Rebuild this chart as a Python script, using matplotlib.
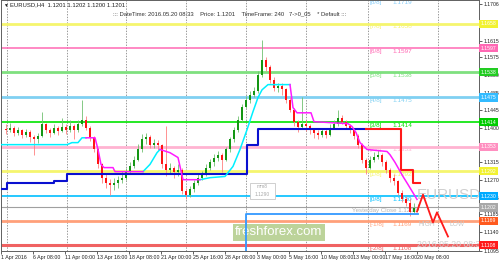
import matplotlib
matplotlib.use("Agg")
import matplotlib.pyplot as plt
from matplotlib.patches import Rectangle
from matplotlib.transforms import blended_transform_factory

plt.rcParams['font.family'] = ['Liberation Sans', 'DejaVu Sans']

# EURUSD H4, one candle drawn every 2 bars
close = [1.1395, 1.1400, 1.1388, 1.1395, 1.1383, 1.1390, 1.1378, 1.1371, 1.1380, 1.1408,
         1.1395, 1.1388, 1.1400, 1.1393, 1.1403, 1.1395, 1.1405, 1.1395, 1.1408, 1.1420,
         1.1400, 1.1375, 1.1346, 1.1309, 1.1276, 1.1264, 1.1257, 1.1262, 1.1269, 1.1276,
         1.1291, 1.1306, 1.1321, 1.1346, 1.1371, 1.1378, 1.1358, 1.1363, 1.1356, 1.1309,
         1.1296, 1.1301, 1.1291, 1.1296, 1.1242, 1.1232, 1.1247, 1.1264, 1.1276, 1.1284,
         1.1301, 1.1314, 1.1326, 1.1333, 1.1321, 1.1346, 1.1371, 1.1395, 1.1420, 1.1452,
         1.1470, 1.1482, 1.1490, 1.1532, 1.1569, 1.1551, 1.1519, 1.1499, 1.1504, 1.1495,
         1.1470, 1.1445, 1.1415, 1.1403, 1.1408, 1.1405, 1.1395, 1.1388, 1.1383, 1.1393,
         1.1383, 1.1400, 1.1408, 1.1425, 1.1415, 1.1405, 1.1395, 1.1380, 1.1358, 1.1321,
         1.1301, 1.1321, 1.1328, 1.1333, 1.1314, 1.1296, 1.1276, 1.1267, 1.1239, 1.1222,
         1.1214, 1.1190, 1.1200, 1.1201]
high = [1.1410, 1.1412, 1.1405, 1.1402, 1.1398, 1.1396, 1.1394, 1.1382, 1.1388, 1.1440,
        1.1412, 1.1400, 1.1410, 1.1405, 1.1425, 1.1410, 1.1418, 1.1410, 1.1420, 1.1468,
        1.1430, 1.1405, 1.1380, 1.1350, 1.1312, 1.1285, 1.1272, 1.1275, 1.1280, 1.1292,
        1.1300, 1.1315, 1.1330, 1.1360, 1.1384, 1.1388, 1.1382, 1.1372, 1.1370, 1.1360,
        1.1405, 1.1312, 1.1305, 1.1310, 1.1300, 1.1250, 1.1255, 1.1270, 1.1285, 1.1292,
        1.1310, 1.1322, 1.1335, 1.1342, 1.1338, 1.1352, 1.1378, 1.1402, 1.1428, 1.1460,
        1.1478, 1.1490, 1.1500, 1.1540, 1.1618, 1.1575, 1.1555, 1.1525, 1.1512, 1.1510,
        1.1498, 1.1475, 1.1448, 1.1420, 1.1477, 1.1418, 1.1410, 1.1400, 1.1395, 1.1400,
        1.1398, 1.1408, 1.1418, 1.1445, 1.1432, 1.1420, 1.1410, 1.1400, 1.1385, 1.1362,
        1.1325, 1.1330, 1.1340, 1.1345, 1.1338, 1.1320, 1.1300, 1.1285, 1.1270, 1.1245,
        1.1230, 1.1225, 1.1212, 1.1210]
low = [1.1385, 1.1390, 1.1380, 1.1382, 1.1375, 1.1378, 1.1365, 1.1333, 1.1362, 1.1376,
       1.1388, 1.1378, 1.1385, 1.1382, 1.1390, 1.1385, 1.1390, 1.1372, 1.1390, 1.1405,
       1.1395, 1.1368, 1.1340, 1.1300, 1.1262, 1.1250, 1.1234, 1.1245, 1.1250, 1.1262,
       1.1270, 1.1285, 1.1300, 1.1318, 1.1340, 1.1360, 1.1350, 1.1350, 1.1345, 1.1300,
       1.1280, 1.1285, 1.1275, 1.1280, 1.1235, 1.1222, 1.1228, 1.1240, 1.1258, 1.1270,
       1.1280, 1.1295, 1.1305, 1.1318, 1.1291, 1.1318, 1.1340, 1.1365, 1.1390, 1.1415,
       1.1448, 1.1462, 1.1475, 1.1485, 1.1525, 1.1540, 1.1510, 1.1490, 1.1488, 1.1480,
       1.1462, 1.1438, 1.1405, 1.1390, 1.1396, 1.1392, 1.1385, 1.1375, 1.1372, 1.1378,
       1.1375, 1.1380, 1.1398, 1.1405, 1.1408, 1.1398, 1.1388, 1.1372, 1.1350, 1.1312,
       1.1284, 1.1298, 1.1315, 1.1322, 1.1305, 1.1288, 1.1265, 1.1258, 1.1232, 1.1215,
       1.1205, 1.1180, 1.1188, 1.1195]
first_open = 1.1398

# stop line (blue while long, red while short), steps
blue_t = [0, 3, 26.5, 33, 123, 128.5, 182.5]
blue_p = [1.1247, 1.1264, 1.1267, 1.1284, 1.1358, 1.1398, 1.1398]
red_t = [182.5, 200, 206, 209.5]
red_p = [1.1398, 1.1294, 1.1262, 1.1262]

# trailing line, cyan / magenta parts
cyan_parts = [
    ([0, 33, 35.5, 38.5, 40.5, 42.5], [1.1358, 1.1358, 1.1363, 1.1363, 1.1375, 1.1375]),
    ([71, 74.5, 78, 79.5], [1.1291, 1.1309, 1.1338, 1.1346]),
    ([99.5, 104.5, 112, 116, 119.5, 123, 126, 128.5, 130.5, 133.5, 144.5],
     [1.1271, 1.1276, 1.1279, 1.1304, 1.1346, 1.1395, 1.1440, 1.1475, 1.1494, 1.1507, 1.1507]),
]
magenta_parts = [
    ([42.5, 47, 48.5, 50, 51.5, 56, 57, 71],
     [1.1375, 1.1375, 1.1346, 1.1309, 1.1301, 1.1301, 1.1291, 1.1291]),
    ([79.5, 84.5, 88.5, 91, 99.5], [1.1346, 1.1338, 1.1326, 1.1271, 1.1271]),
    ([144.5, 146, 148, 155, 156.5, 173.5, 175.5, 177.5, 179.5, 183, 193, 194.5, 197, 201, 203.5, 208],
     [1.1507, 1.1450, 1.1437, 1.1437, 1.1415, 1.1410, 1.1403, 1.1388, 1.1363, 1.1346,
      1.1341, 1.1333, 1.1314, 1.1279, 1.1259, 1.1222]),
]

# projected zigzag
zig_t = [208, 211, 216, 218, 223.5]
zig_p = [1.1192, 1.1234, 1.1165, 1.1190, 1.1130]

# Murrey levels
level_names = ['8/8', '7/8', '6/8', '5/8', '4/8', '3/8', '2/8', '1/8', '0/8', '-1/8', '-2/8']
level_prices = [1.1719, 1.1658, 1.1597, 1.1538, 1.1475, 1.1414, 1.1353, 1.1292, 1.1230, 1.1169, 1.1108]
level_colors = ['#87cefa', '#f5f56e', '#ff69b4', '#7fe07f', '#80d0f2', '#00e400',
                '#ffb3d1', '#f5f56e', '#00bfff', '#ffa07a', '#f06262']
level_widths = [0, 2.0, 1.1, 2.0, 2.0, 1.2, 2.0, 2.0, 1.2, 2.0, 2.2]
box_colors = ['#87cefa', '#f2f230', '#ff69b4', '#22cc22', '#33bbff', '#00cc00',
              '#ff8fc0', '#f2f230', '#00aaff', '#ff5a1e', '#ff1a1a']

last_price = 1.1202
yest_close = 1.1185

ytick_vals = [1.1706, 1.1615, 1.1575, 1.1530, 1.1485, 1.1445, 1.1400, 1.1315,
              1.1270, 1.1225, 1.1185, 1.1140, 1.1095]
xtick_labels = ['1 Apr 2016', '6 Apr 08:00', '11 Apr 00:00', '13 Apr 16:00', '18 Apr 08:00',
                '21 Apr 00:00', '25 Apr 16:00', '28 Apr 08:00', '3 May 00:00', '5 May 16:00',
                '10 May 08:00', '13 May 00:00', '17 May 16:00', '20 May 08:00']
grid_t = [3, 33, 62.5, 92.5, 122.5, 152.5, 183.5, 218.5]

fig = plt.figure(figsize=(5, 2.65), dpi=100)
ax = fig.add_axes([1 / 500, 14 / 265, 478 / 500, 251 / 265])
ax.set_xlim(0, 239)
ax.set_ylim(1.1094, 1.1717)

for g in grid_t:
    ax.axvline(g, color='#707070', lw=0.5, ls=(0, (2, 2)), zorder=0)

for name, p, c, w in zip(level_names, level_prices, level_colors, level_widths):
    if w > 0:
        ax.axhline(p, color=c, lw=w, zorder=1)
    ax.text(184.5, p - 0.0008, '[' + name + ']', color=c, fontsize=4.6, va='center', zorder=2, clip_on=True)
    ax.text(195.5, p - 0.0008, f'{p:.4f}', color=c, fontsize=4.6, va='center', zorder=2, clip_on=True)
ax.axhline(last_price, color='#a0a0a0', lw=0.8, zorder=1)

# watermark box
ax.add_patch(Rectangle((116, 1.1120), 46, 0.0041, fc='#bcd39a', ec='none', zorder=1))
ax.text(139, 1.11405, 'freshforex.com', color='white', fontsize=9.5, ha='center', va='center', zorder=2)
ax.add_patch(Rectangle((124.5, 1.1222), 12.5, 0.0042, fc='white', ec='#c8c8c8', lw=0.6, zorder=2))
ax.text(130.7, 1.1253, 'mm8', color='#a8a8a8', fontsize=3.5, ha='center', va='center', zorder=2)
ax.text(130.7, 1.1234, '1.1290', color='#a8a8a8', fontsize=3.5, ha='center', va='center', zorder=2)

ax.text(224, 1.1234, 'EURUSD', color='#cfcfcf', fontsize=11, ha='center', va='center', zorder=2)
ax.text(213, 1.1160, 'HIGH', color='#c8c8c8', fontsize=4.8, ha='center', va='center', zorder=2)
ax.text(228, 1.1160, 'LOW', color='#c8c8c8', fontsize=4.8, ha='center', va='center', zorder=2)
ax.text(208, 1.1110, '2016.05.20 08:33', color='#d0d0d0', fontsize=6.3, va='center', zorder=2, clip_on=True)
ax.text(208, 1.1195, 'Yesterday Close 1.1202', color='#b4b4b4', fontsize=4.4, ha='right', va='center', zorder=2)

# candles
opens = [first_open] + close[:-1]
for i, (o, c, h, l) in enumerate(zip(opens, close, high, low)):
    t = 2.5 + 2 * i
    up = c >= o
    ax.vlines(t, l, h, color='#70c070' if up else '#ff8080', lw=0.6, zorder=3)
    ax.bar(t, max(abs(c - o), 0.00008), bottom=min(o, c), width=1.3,
           color='#149614' if up else '#ff1414', zorder=3)

ax.plot(blue_t, blue_p, drawstyle='steps-post', color='#0a10d0', lw=1.5, zorder=4)
ax.plot(red_t, red_p, drawstyle='steps-post', color='#ff1a1a', lw=1.5, zorder=4)
for ts, ps in cyan_parts:
    ax.plot(ts, ps, color='#00f0ff', lw=1.1, zorder=4)
for ts, ps in magenta_parts:
    ax.plot(ts, ps, color='#ff1aff', lw=1.1, zorder=4)
ax.plot(zig_t, zig_p, color='#ff1a1a', lw=1.3, zorder=4)

# yesterday close frame
ax.plot([122.5, 122.5, 208.5], [1.1094, yest_close, yest_close], color='#3399ff', lw=1.3, zorder=4)

# right price boxes
trans = blended_transform_factory(ax.transAxes, ax.transData)
for p, c in zip(level_prices[1:], box_colors[1:]):
    ax.text(1.004, p, f'{p:.4f}', transform=trans, fontsize=3.7, color='white', va='center',
            bbox=dict(boxstyle='square,pad=0.3', fc=c, ec='none'), clip_on=False, zorder=10)
ax.text(1.004, last_price, f'{last_price:.4f}', transform=trans, fontsize=3.7, color='white',
        va='center', bbox=dict(boxstyle='square,pad=0.3', fc='#a8a8a8', ec='none'), clip_on=False, zorder=10)

ax.yaxis.tick_right()
ax.set_yticks(ytick_vals)
ax.set_yticklabels([f'{v:.4f}' for v in ytick_vals], fontsize=3.7)
ax.set_xticks([16 * k for k in range(len(xtick_labels))])
ax.set_xticklabels(xtick_labels, fontsize=3.8, ha='left')
ax.tick_params(axis='both', length=2, width=0.5, pad=1.0, colors='#202020')
for s in ax.spines.values():
    s.set_color('#606060')
    s.set_linewidth(0.7)

fig.text(3 / 500, 1 - 5 / 265, '▼', fontsize=3.5, va='center', color='#202020')
fig.text(10 / 500, 1 - 5 / 265, 'EURUSD,H4  1.1201 1.1202 1.1200 1.1201', fontsize=4.2, va='center', color='#202020')
fig.text(113 / 500, 1 - 14 / 265, '::: DateTime: 2016.05.20 08:33    Price: 1.1201    TimeFrame: 240   7->0_05    * Default :::',
         fontsize=4.2, va='center', color='#303030')

fig.savefig('out.png', dpi=100)
